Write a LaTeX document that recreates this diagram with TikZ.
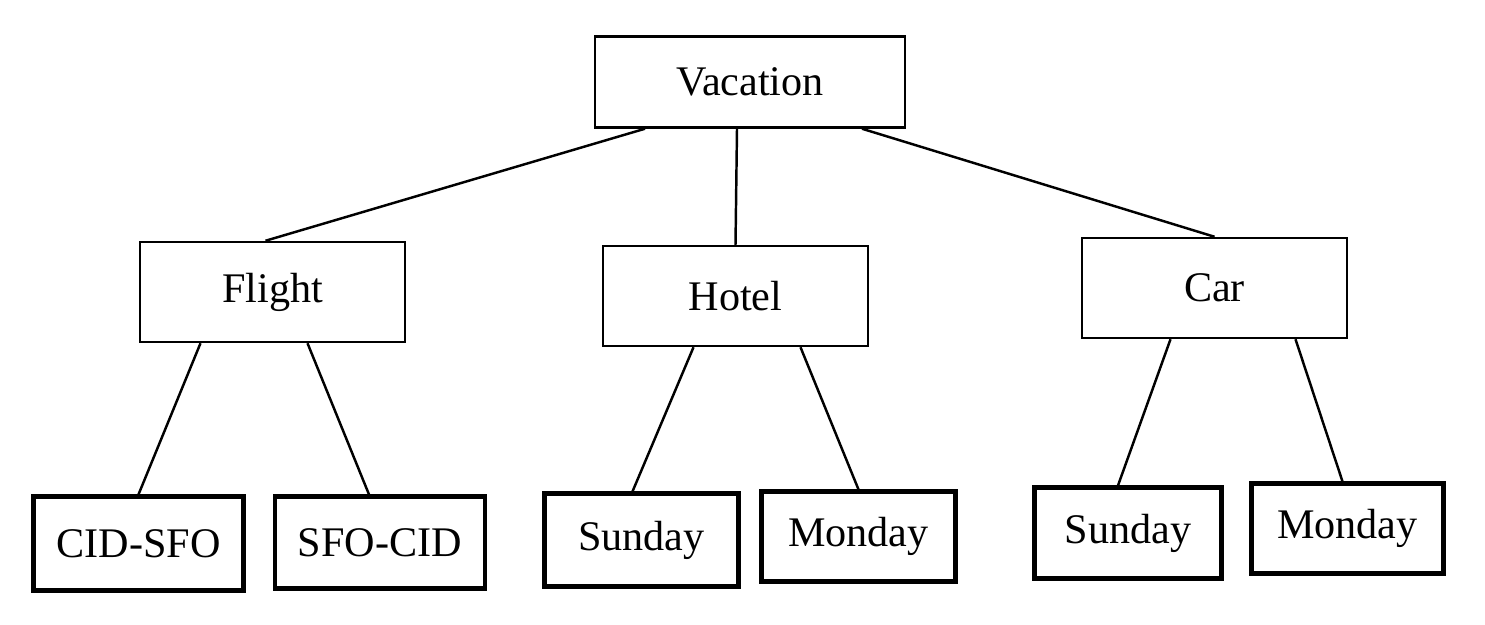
\documentclass[tikz,border=0pt]{standalone}
\usepackage{fontspec}
\setmainfont{Liberation Serif}
\begin{document}
\begin{tikzpicture}[
	box/.style={draw,line width=1.4pt,inner sep=0pt,font=\fontsize{24}{28}\selectfont},
	leaf/.style={box,line width=2.3pt},
	edge/.style={line width=1.4pt}]
\useasboundingbox (0,0) rectangle (29.7,-12.5);
\node[box,minimum width=6.2cm,minimum height=1.82cm] (vac) at (15.0,-1.64) {Vacation};
\node[box,minimum width=5.3cm,minimum height=2cm] (flight) at (5.45,-5.84) {Flight};
\node[box,minimum width=5.3cm,minimum height=2cm] (hotel) at (14.71,-5.92) {Hotel};
\node[box,minimum width=5.3cm,minimum height=2cm] (car) at (24.29,-5.76) {Car};
\node[leaf,minimum width=4.2cm,minimum height=1.88cm] (cidsfo) at (2.77,-10.87) {CID-SFO};
\node[leaf,minimum width=4.2cm,minimum height=1.84cm] (sfocid) at (7.6,-10.85) {SFO-CID};
\node[leaf,minimum width=3.88cm,minimum height=1.86cm] (hsun) at (12.83,-10.8) {Sunday};
\node[leaf,minimum width=3.88cm,minimum height=1.8cm] (hmon) at (17.17,-10.73) {Monday};
\node[leaf,minimum width=3.74cm,minimum height=1.82cm] (csun) at (22.56,-10.66) {Sunday};
\node[leaf,minimum width=3.84cm,minimum height=1.8cm] (cmon) at (26.95,-10.57) {Monday};
\draw[edge] ([xshift=-2.1cm]vac.south) -- ([xshift=-0.14cm]flight.north);
\draw[edge] ([xshift=-0.26cm]vac.south) -- (hotel.north);
\draw[edge] ([xshift=2.24cm]vac.south) -- (car.north);
\draw[edge] ([xshift=-1.44cm]flight.south) -- (cidsfo.north);
\draw[edge] ([xshift=0.7cm]flight.south) -- ([xshift=-0.22cm]sfocid.north);
\draw[edge] ([xshift=-0.84cm]hotel.south) -- ([xshift=-0.18cm]hsun.north);
\draw[edge] ([xshift=1.3cm]hotel.south) -- (hmon.north);
\draw[edge] ([xshift=-0.88cm]car.south) -- ([xshift=-0.2cm]csun.north);
\draw[edge] ([xshift=1.62cm]car.south) -- ([xshift=-0.1cm]cmon.north);
\end{tikzpicture}
\end{document}
